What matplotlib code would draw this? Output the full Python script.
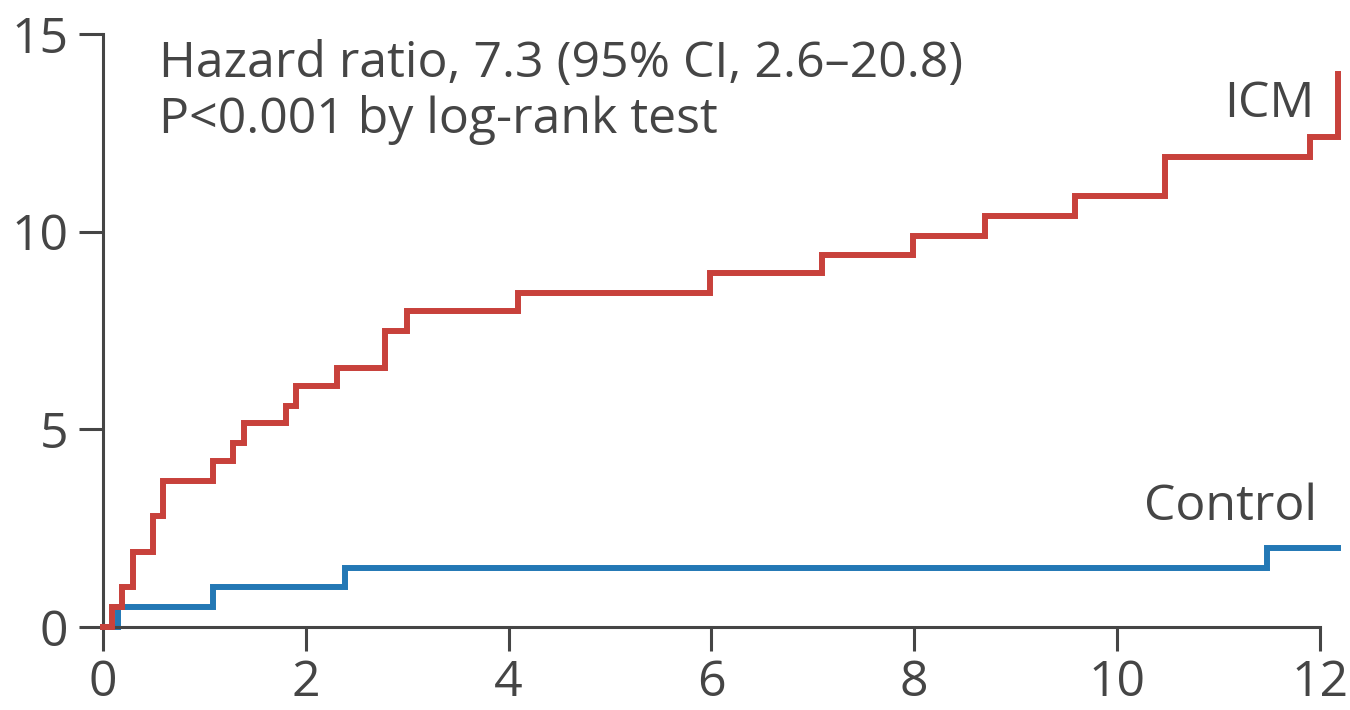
import matplotlib.pyplot as plt

# Cumulative incidence (%) step curves, time in years
icm_time = [0, 0.09, 0.19, 0.30, 0.49, 0.59, 1.08, 1.28, 1.39, 1.80, 1.90, 2.31,
            2.78, 3.00, 4.09, 5.99, 7.09, 7.99, 8.70, 9.59, 10.47, 11.90, 12.18]
icm_pct = [0, 0.5, 1.0, 1.9, 2.8, 3.7, 4.2, 4.65, 5.15, 5.6, 6.1, 6.55,
           7.5, 8.0, 8.45, 8.95, 9.4, 9.9, 10.4, 10.9, 11.9, 12.4, 14.0]

ctrl_time = [0, 0.15, 1.08, 2.39, 11.48, 12.18]
ctrl_pct = [0, 0.5, 1.0, 1.5, 2.0, 2.0]

xticks = [0, 2, 4, 6, 8, 10, 12]
yticks = [0, 5, 10, 15]

red = '#c8413b'
blue = '#2378b5'
grey = '#454545'

plt.rcParams['font.family'] = ['Open Sans', 'DejaVu Sans']

fig = plt.figure(figsize=(13.5, 7.1), dpi=100)
ax = fig.add_axes([0.0763, 0.1169, 0.9163, 0.8352])

ax.step(icm_time, icm_pct, where='post', color=red, lw=4.3, clip_on=False,
        solid_joinstyle='miter', zorder=3)
ax.step(ctrl_time, ctrl_pct, where='post', color=blue, lw=4.3, clip_on=False,
        solid_joinstyle='miter', zorder=2)

ax.set_xlim(0, 12.2)
ax.set_ylim(0, 15)
ax.set_xticks(xticks)
ax.set_yticks(yticks)

for side in ['top', 'right']:
    ax.spines[side].set_visible(False)
for side in ['left', 'bottom']:
    ax.spines[side].set_color(grey)
    ax.spines[side].set_linewidth(2.2)
ax.spines['bottom'].set_bounds(0, 12)
ax.spines['left'].set_bounds(0, 15)

ax.tick_params(axis='both', direction='out', length=17, width=2.2,
               color=grey, labelcolor=grey, labelsize=36)
ax.tick_params(axis='x', pad=6)
ax.tick_params(axis='y', pad=8)

label_size = 36
ax.text(0.55, 13.9, 'Hazard ratio, 7.3 (95% CI, 2.6\u201320.8)', fontsize=label_size,
        color=grey, va='baseline', ha='left')
ax.text(0.55, 12.5, 'P<0.001 by log-rank test', fontsize=label_size,
        color=grey, va='baseline', ha='left')
ax.text(11.95, 12.9, 'ICM', fontsize=label_size, color=grey, va='baseline', ha='right')
ax.text(11.97, 2.7, 'Control', fontsize=label_size, color=grey, va='baseline', ha='right')

fig.savefig('out.png', dpi=100)
